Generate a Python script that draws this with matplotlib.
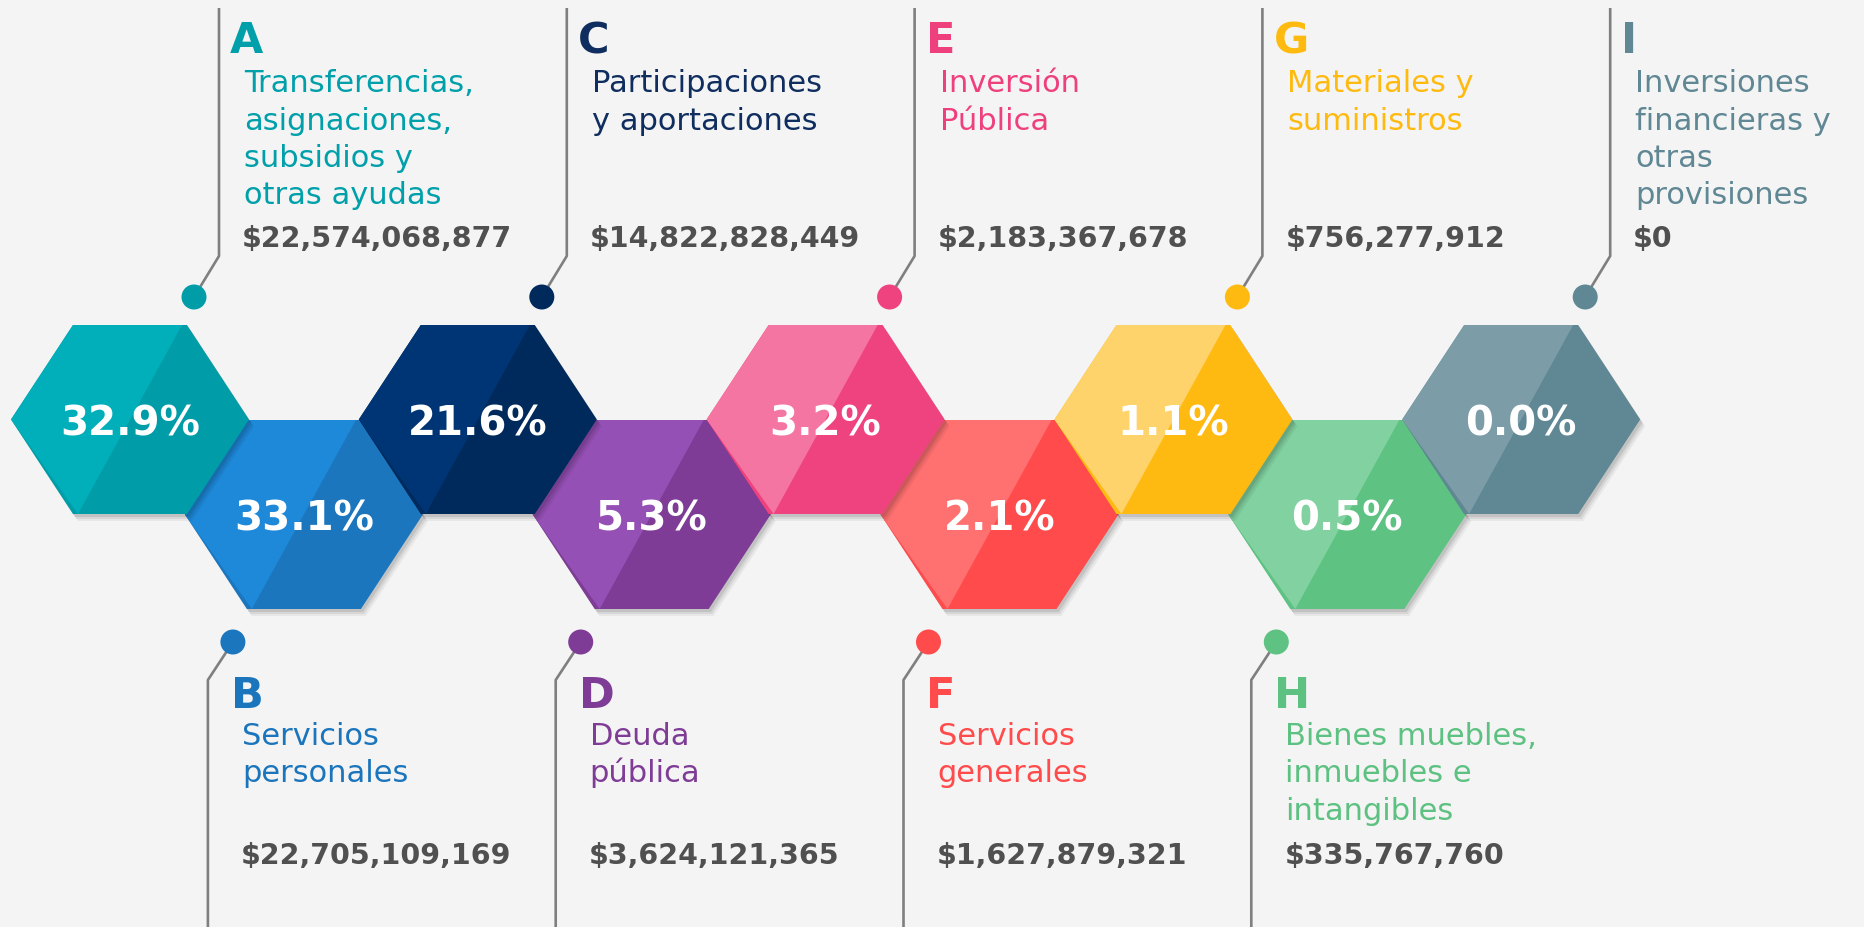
import matplotlib
matplotlib.use("Agg")
import matplotlib.pyplot as plt
from matplotlib.patches import Polygon, Circle

# ---------------- data ----------------
letters = ["A", "B", "C", "D", "E", "F", "G", "H", "I"]
categories = [
    "Transferencias,\nasignaciones,\nsubsidios y\notras ayudas",
    "Servicios\npersonales",
    "Participaciones\ny aportaciones",
    "Deuda\npública",
    "Inversión\nPública",
    "Servicios\ngenerales",
    "Materiales y\nsuministros",
    "Bienes muebles,\ninmuebles e\nintangibles",
    "Inversiones\nfinancieras y\notras\nprovisiones",
]
amounts = [22574068877, 22705109169, 14822828449, 3624121365,
           2183367678, 1627879321, 756277912, 335767760, 0]
percents = [32.9, 33.1, 21.6, 5.3, 3.2, 2.1, 1.1, 0.5, 0.0]

light_colors = ["#00AFBA", "#1E88D9", "#003575", "#9450B4", "#F475A2",
                "#FF7070", "#FFD36B", "#82D1A0", "#7C9DA7"]
dark_colors = ["#009DA8", "#1B76BD", "#002A5C", "#7E3C96", "#EF4380",
               "#FF4B4B", "#FFBA12", "#5DC282", "#5F8794"]
text_colors = ["#00A0AB", "#1B75BC", "#0F2D5E", "#7E3C96", "#EF407E",
               "#FF4B4B", "#FFBA10", "#5CC181", "#5F8794"]

# ---------------- layout ----------------
W, H = 1864, 928
fig = plt.figure(figsize=(W / 100, H / 100), dpi=100)
bg = "#F4F4F4"
fig.patch.set_facecolor(bg)
ax = fig.add_axes([0, 0, 1, 1])
ax.set_xlim(0, W)
ax.set_ylim(H, 0)
ax.axis("off")

X0, DX = 130.0, 173.9
Y_TOP, Y_BOT = 420.5, 515.5
HW, HA, HH = 119.0, 57.0, 94.5  # half width, half top-edge, half height
LINE_C = "#7F7F7F"
FONT = "DejaVu Sans"


def hex_pts(cx, cy):
    return [(cx - HW, cy), (cx - HA, cy - HH), (cx + HA, cy - HH),
            (cx + HW, cy), (cx + HA, cy + HH), (cx - HA, cy + HH)]


def draw_hex(i):
    cx = X0 + i * DX
    cy = Y_TOP if i % 2 == 0 else Y_BOT
    z = 3 if i % 2 else 7
    # soft shadow
    for off, al in [(7, 0.05), (5, 0.07), (3, 0.09)]:
        ax.add_patch(Polygon(hex_pts(cx + off * 0.7, cy + off), closed=True,
                             facecolor="black", edgecolor="none", alpha=al,
                             zorder=z - 0.5))
    pts = hex_pts(cx, cy)
    ax.add_patch(Polygon(pts, closed=True, facecolor=dark_colors[i],
                         edgecolor="none", zorder=z))
    inset = 5
    light = [pts[0], pts[1], (cx + HA - inset, cy - HH),
             (cx - HA + inset, cy + HH)]
    ax.add_patch(Polygon(light, closed=True, facecolor=light_colors[i],
                         edgecolor="none", zorder=z + 0.1))
    ax.text(cx, cy + 15, f"{percents[i]:.1f}%", color="white",
            fontsize=29, fontweight="bold", family=FONT,
            ha="center", va="baseline", zorder=z + 0.2)


for i in list(range(1, 9, 2)) + list(range(0, 9, 2)):
    draw_hex(i)

# ---------------- labels ----------------
for i in range(9):
    cx = X0 + i * DX
    top = i % 2 == 0
    col = text_colors[i]
    lines = categories[i].split("\n")
    amt = f"${amounts[i]:,}"
    if top:
        lx = cx + 89
        dot = (cx + 64, 298)
        ax.plot([lx, lx, dot[0]], [9, 257, dot[1]], color=LINE_C, lw=1.9,
                solid_capstyle="butt", zorder=1)
        ax.add_patch(Circle(dot, 12.5, facecolor=dark_colors[i],
                            edgecolor="none", zorder=1.5))
        ax.text(cx + 100, 53, letters[i], color=col, fontsize=31,
                fontweight="bold", family=FONT, ha="left", va="baseline")
        for j, ln in enumerate(lines):
            ax.text(cx + 114, 92 + j * 37.5, ln, color=col, fontsize=22,
                    fontweight="normal", family=FONT,
                    ha="left", va="baseline")
        ax.text(cx + 112, 247, amt, color="#505050", fontsize=20.5,
                fontweight="bold", family=FONT, ha="left", va="baseline")
    else:
        lx = cx - 96
        dot = (cx - 71, 643)
        ax.plot([dot[0], lx, lx], [dot[1], 681, H + 5], color=LINE_C, lw=1.9,
                solid_capstyle="butt", zorder=1)
        ax.add_patch(Circle(dot, 12.5, facecolor=dark_colors[i],
                            edgecolor="none", zorder=1.5))
        ax.text(cx - 73, 708, letters[i], color=col, fontsize=31,
                fontweight="bold", family=FONT, ha="left", va="baseline")
        for j, ln in enumerate(lines):
            ax.text(cx - 62, 745 + j * 37.5, ln, color=col, fontsize=22,
                    fontweight="normal", family=FONT,
                    ha="left", va="baseline")
        ax.text(cx - 63, 864, amt, color="#505050", fontsize=20.5,
                fontweight="bold", family=FONT, ha="left", va="baseline")

fig.savefig("out.png", dpi=100, facecolor=bg)
